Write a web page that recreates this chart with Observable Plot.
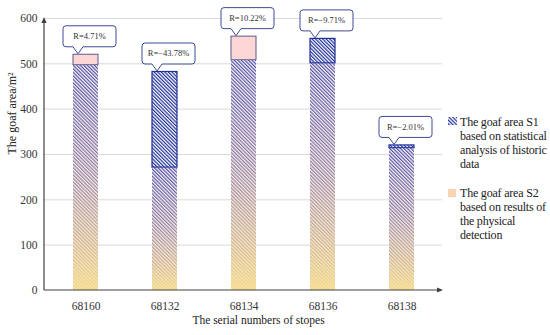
<!DOCTYPE html>
<html>
<head>
<meta charset="utf-8">
<script src="https://cdn.jsdelivr.net/npm/d3@7"></script>
<script src="https://cdn.jsdelivr.net/npm/@observablehq/plot@0.6"></script>
<style>
  body { margin: 0; background: #fff; }
  #chart { position: relative; width: 550px; height: 335px; font-family: "Liberation Serif", "Times New Roman", serif; }
  .leg { position: absolute; left: 448px; font-size: 12px; letter-spacing: -0.2px; line-height: 14px; color: #222; white-space: nowrap; }
  .leg .sw { position: absolute; left: 0; }
  .leg .txt { position: absolute; left: 12px; top: 0; }
</style>
</head>
<body>
<div id="chart"></div>
<script>
// ---- data ----
const stopes = ["68160", "68132", "68134", "68136", "68138"];
const s1Values = [497, 482, 508, 555, 320];   // S1: statistical analysis of historic data
const s2Values = [520, 271, 560, 501, 314];   // S2: physical detection
const rLabels = ["R=4.71%", "R=\u221243.78%", "R=10.22%", "R=\u22129.71%", "R=\u22122.01%"];
const yTicks = [0, 100, 200, 300, 400, 500, 600];
const legendS1 = ["The goaf area S1", "based on statistical", "analysis of historic", "data"];
const legendS2 = ["The goaf area S2", "based on results of", "the physical", "detection"];
const xTitle = "The serial numbers of stopes";
const yTitle = "The goaf area/m\u00B2";

const rows = stopes.map((s, i) => ({
  stope: s, s1: s1Values[i], s2: s2Values[i], r: rLabels[i],
  top: Math.max(s1Values[i], s2Values[i]), low: Math.min(s1Values[i], s2Values[i])
}));

const navy = "#1f2f9a";
const font = "'Liberation Serif', 'Times New Roman', serif";

// callout shape (rounded box with a pointer whose tip is at the anchor)
const callout = {
  draw(ctx) {
    const L = -15, R = 38, T = -28, B = -7, r = 3;
    ctx.moveTo(L + r, T);
    ctx.lineTo(R - r, T);
    ctx.arcTo(R, T, R, T + r, r);
    ctx.lineTo(R, B - r);
    ctx.arcTo(R, B, R - r, B, r);
    ctx.lineTo(5, B);
    ctx.lineTo(0, 0);
    ctx.lineTo(-5, B);
    ctx.lineTo(L + r, B);
    ctx.arcTo(L, B, L, B - r, r);
    ctx.lineTo(L, T + r);
    ctx.arcTo(L, T, L + r, T, r);
    ctx.closePath();
  }
};

function axisArrows(index, scales, values, dims) {
  const g = d3.create("svg:g").attr("stroke", "#404040").attr("fill", "#404040");
  const x0 = dims.marginLeft, x1 = dims.width - dims.marginRight;
  const yb = dims.height - dims.marginBottom, yt = scales.y(600);
  g.append("line").attr("x1", x0).attr("x2", x0).attr("y1", yb).attr("y2", yt + 3).attr("stroke-width", 1.2);
  g.append("path").attr("stroke", "none").attr("d", `M${x0},${yt - 1}L${x0 - 2.6},${yt + 5}L${x0 + 2.6},${yt + 5}Z`);
  g.append("line").attr("x1", x0).attr("x2", x1 - 3).attr("y1", yb).attr("y2", yb).attr("stroke-width", 1.2);
  g.append("path").attr("stroke", "none").attr("d", `M${x1 + 1},${yb}L${x1 - 5},${yb - 2.6}L${x1 - 5},${yb + 2.6}Z`);
  return g.node();
}

const svg = Plot.plot({
  width: 550,
  height: 335,
  marginLeft: 44,
  marginRight: 108,
  marginTop: 18,
  marginBottom: 45,
  style: { fontFamily: font, fontSize: "11.5px", color: "#333", background: "white", overflow: "visible" },
  x: { domain: stopes, paddingInner: 0.686, paddingOuter: 0.343, axis: null, label: null },
  y: { domain: [0, 600], axis: null, label: null },
  marks: [
    Plot.gridY(yTicks.filter(d => d > 0), { stroke: "#d9d9d9", strokeOpacity: 1 }),
    Plot.axisY(yTicks, { tickSize: 0, tickPadding: 7, label: null, fontSize: 11.5 }),
    Plot.axisX(stopes, { tickSize: 0, tickPadding: 11, label: null, fontSize: 11.5 }),
    // S1 hatched bars (full height)
    Plot.barY(rows, { x: "stope", y: "s1", fill: "url(#hatch)" }),
    // S2 excess (pink)
    Plot.barY(rows.filter(d => d.s2 > d.s1), { x: "stope", y1: "s1", y2: "s2", fill: "#fcd5d5", stroke: "#5c5a8e", strokeWidth: 1 }),
    // S1 excess outline
    Plot.barY(rows.filter(d => d.s1 > d.s2), { x: "stope", y1: "s2", y2: "s1", fill: "none", stroke: navy, strokeWidth: 1.2 }),
    // overlapped part: gradient wash
    Plot.barY(rows, { x: "stope", y: "low", fill: "url(#wash)" }),
    axisArrows,
    Plot.dot(rows, { x: "stope", y: "top", symbol: callout, r: 5, fill: "white", stroke: "#3d4b94", strokeWidth: 1, dx: -8, dy: -1 }),
    Plot.text(rows, { x: "stope", y: "top", text: "r", dx: 3.5, dy: -18.5, fontSize: 8.5, fill: "#333" }),
    Plot.text([xTitle], { text: d => d, frameAnchor: "bottom", dx: 15, dy: 33, fontSize: 11.5, fill: "#222" }),
    Plot.text([yTitle], { text: d => d, frameAnchor: "left", dx: -32, rotate: -90, fontSize: 12, fill: "#222" })
  ]
});

d3.select(svg).insert("defs", ":first-child").html(`
  <pattern id="hatch" patternUnits="userSpaceOnUse" width="2.5" height="6" patternTransform="rotate(-45)">
    <rect width="2.5" height="6" fill="white"/>
    <rect width="1.2" height="6" fill="${navy}"/>
  </pattern>
  <linearGradient id="wash" x1="0" y1="0" x2="0" y2="1">
    <stop offset="0" stop-color="#f5cdd3" stop-opacity="0.2"/>
    <stop offset="0.5" stop-color="#f9d6bf" stop-opacity="0.52"/>
    <stop offset="1" stop-color="#fde394" stop-opacity="0.93"/>
  </linearGradient>
`);

const chart = document.getElementById("chart");
chart.appendChild(svg);

function legendBlock(top, lines, swatch) {
  const div = document.createElement("div");
  div.className = "leg";
  div.style.top = top + "px";
  div.innerHTML = swatch + `<div class="txt">${lines.join("<br>")}</div>`;
  chart.appendChild(div);
}
legendBlock(114.7, legendS1,
  `<svg class="sw" width="10" height="10" style="top:2px">
     <defs><pattern id="hatchL" patternUnits="userSpaceOnUse" width="2.6" height="6" patternTransform="rotate(-45)">
       <rect width="2.6" height="6" fill="white"/><rect width="1.2" height="6" fill="${navy}"/></pattern></defs>
     <rect width="9" height="8" fill="url(#hatchL)"/></svg>`);
legendBlock(186.3, legendS2,
  `<svg class="sw" width="10" height="10" style="top:3px"><rect width="8" height="8" fill="#fbd4b4"/></svg>`);
</script>
</body>
</html>
